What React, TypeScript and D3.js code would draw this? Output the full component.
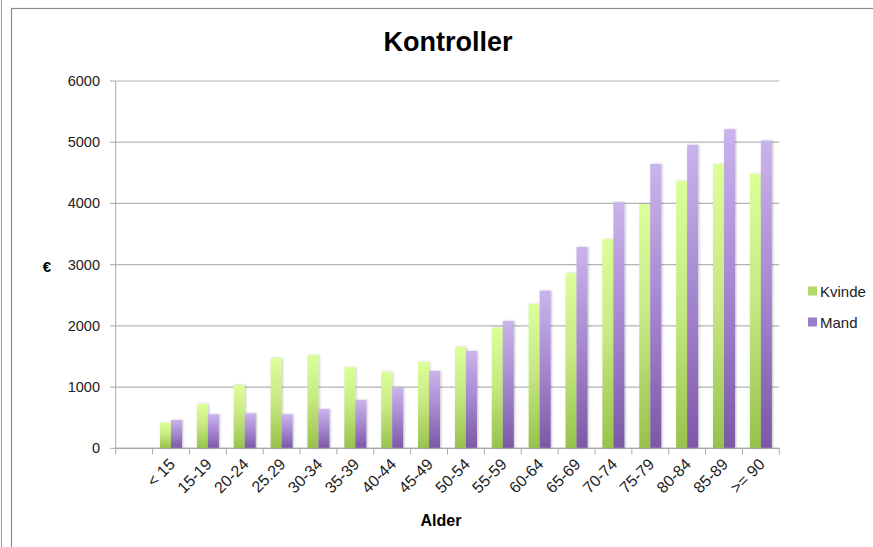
import React from "react";
import * as d3 from "d3";

// Age groups (the first slot on the axis is left blank)
const categories = ["", "< 15", "15-19", "20-24", "25.29", "30-34", "35-39", "40-44", "45-49", "50-54", "55-59", "60-64", "65-69", "70-74", "75-79", "80-84", "85-89", ">= 90"];
const seriesNames = ["Kvinde", "Mand"];
const kvinde = [null, 418, 729, 1034, 1475, 1525, 1324, 1252, 1410, 1655, 1971, 2358, 2859, 3420, 3987, 4368, 4645, 4482];
const mand = [null, 463, 556, 572, 556, 642, 789, 995, 1263, 1590, 2080, 2575, 3289, 4020, 4645, 4958, 5212, 5026];
const yTicks = [0, 1000, 2000, 3000, 4000, 5000, 6000];

const W = 873;
const H = 547;
const font = "'Liberation Sans', Arial, sans-serif";

export default function App() {
  const x = d3.scaleBand<string>().domain(categories.map((c, i) => String(i))).range([115.7, 779.3]).padding(0);
  const inner = d3.scaleBand<string>().domain(seriesNames).range([0, x.bandwidth()]).paddingInner(0).paddingOuter(0.676);
  const y = d3.scaleLinear().domain([0, 6000]).range([448.3, 81]);
  const data = [kvinde, mand];
  const gradIds = ["gradKvinde", "gradMand"];
  const legendColors = ["#b3d96a", "#9a7cc9"];

  return (
    <svg width={W} height={H} style={{ position: "fixed", left: 0, top: 0, background: "#fff" }} fontFamily={font}>
      <defs>
        <linearGradient id="gradKvinde" x1="0" y1="0" x2="0" y2="1">
          <stop offset="0" stopColor="#dcff9a" />
          <stop offset="0.45" stopColor="#c8ea84" />
          <stop offset="1" stopColor="#98c24a" />
        </linearGradient>
        <linearGradient id="gradMand" x1="0" y1="0" x2="0" y2="1">
          <stop offset="0" stopColor="#cab4ec" />
          <stop offset="0.45" stopColor="#a98bd2" />
          <stop offset="1" stopColor="#7b58a6" />
        </linearGradient>
        <filter id="barShadow" x="-30%" y="-5%" width="160%" height="110%">
          <feDropShadow dx="1" dy="0" stdDeviation="0.8" floodColor="#000" floodOpacity="0.25" />
        </filter>
      </defs>

      {/* outer frame lines */}
      <line x1={1.5} y1={0} x2={1.5} y2={H} stroke="#9a9a9a" strokeWidth={1} />
      <rect x={11.5} y={8.5} width={W} height={H} fill="none" stroke="#8c8c8c" strokeWidth={1.2} />

      {/* title */}
      <text x={448} y={51} textAnchor="middle" fontSize={27} fontWeight="bold" fill="#000">Kontroller</text>

      {/* gridlines */}
      {yTicks.map((t) => (
        <line key={"g" + t} x1={115.7} x2={779.3} y1={y(t)} y2={y(t)} stroke="#b4b4b4" strokeWidth={1.2} />
      ))}

      {/* y axis */}
      <line x1={115.7} x2={115.7} y1={y(6000)} y2={y(0)} stroke="#a8a8a8" strokeWidth={1} />
      {yTicks.map((t) => (
        <g key={"yt" + t}>
          <line x1={110} x2={115.7} y1={y(t)} y2={y(t)} stroke="#a8a8a8" />
          <text x={100} y={y(t) + 5} textAnchor="end" fontSize={14.5} fill="#222">{t}</text>
        </g>
      ))}
      <text x={47} y={272} textAnchor="middle" fontSize={15} fontWeight="bold" fill="#000">€</text>

      {/* bars */}
      {data.map((vals, si) => (
        <g key={seriesNames[si]} filter="url(#barShadow)">
          {vals.map((v, i) =>
            v == null ? null : (
              <rect
                key={i}
                x={(x(String(i)) as number) + (inner(seriesNames[si]) as number)}
                y={y(v)}
                width={inner.bandwidth()}
                height={y(0) - y(v)}
                fill={`url(#${gradIds[si]})`}
              />
            )
          )}
        </g>
      ))}

      {/* x axis */}
      <line x1={115.7} x2={779.3} y1={y(0)} y2={y(0)} stroke="#a8a8a8" strokeWidth={1.2} />
      {categories.map((c, i) => (
        <line key={"xt" + i} x1={x(String(i)) as number} x2={x(String(i)) as number} y1={y(0)} y2={y(0) + 6} stroke="#a8a8a8" />
      ))}
      <line x1={779.3} x2={779.3} y1={y(0)} y2={y(0) + 6} stroke="#a8a8a8" />
      {categories.map((c, i) =>
        c === "" ? null : (
          <text
            key={"xl" + i}
            transform={`translate(${(x(String(i)) as number) + x.bandwidth() / 2 + 5},${y(0) + 17}) rotate(-45)`}
            textAnchor="end"
            fontSize={16}
            fill="#222"
          >
            {c}
          </text>
        )
      )}
      <text x={441} y={526} textAnchor="middle" fontSize={16} fontWeight="bold" fill="#000">Alder</text>

      {/* legend */}
      {seriesNames.map((s, i) => (
        <g key={"lg" + s} transform={`translate(808,${291 + i * 31})`}>
          <rect x={0} y={-4.5} width={9} height={9} fill={legendColors[i]} />
          <text x={12} y={5.5} fontSize={15} fill="#222">{s}</text>
        </g>
      ))}
    </svg>
  );
}
